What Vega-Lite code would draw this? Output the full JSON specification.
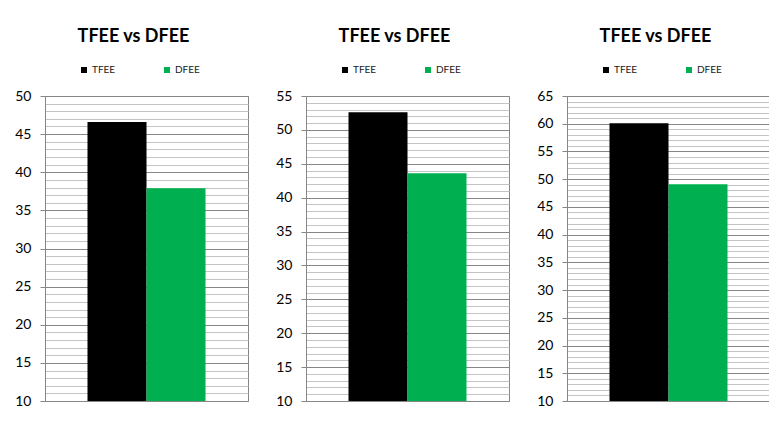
{
  "$schema": "https://vega.github.io/schema/vega-lite/v6.json",
  "padding": {"left": 14, "top": 27, "right": 0, "bottom": 0},
  "background": "white",
  "spacing": 26,
  "datasets": {
    "vals": [
      {"panel": 1, "series": "TFEE", "value": 46.6},
      {"panel": 1, "series": "DFEE", "value": 37.9},
      {"panel": 2, "series": "TFEE", "value": 52.6},
      {"panel": 2, "series": "DFEE", "value": 43.6},
      {"panel": 3, "series": "TFEE", "value": 60.1},
      {"panel": 3, "series": "DFEE", "value": 49.1}
    ]
  },
  "config": {
    "view": {"stroke": "#868686", "strokeWidth": 1},
    "title": {"font": "Lato", "fontSize": 18, "fontWeight": "bold", "color": "#000000", "dx": -13, "offset": 19},
    "legend": {"orient": "none", "legendX": 34, "legendY": -31, "direction": "horizontal", "columnPadding": 46, "symbolType": "square", "symbolSize": 36, "symbolStrokeWidth": 0, "labelFont": "Lato", "labelFontSize": 10, "labelColor": "#1a1a1a", "labelOffset": 3, "padding": 0, "title": null}
  },
  "resolve": {"scale": {"y": "independent", "color": "independent"}, "legend": {"color": "independent"}},
  "hconcat": [
    {
      "width": 203, "height": 305,
      "title": "TFEE vs DFEE",
      "data": {"name": "vals"},
      "transform": [{"filter": "datum.panel === 1"}],
      "mark": {"type": "bar"},
      "encoding": {
        "x": {"field": "series", "type": "nominal", "sort": ["TFEE", "DFEE"], "axis": null, "scale": {"paddingInner": 0, "paddingOuter": 0.72}},
        "y": {"field": "value", "type": "quantitative", "scale": {"domain": [10, 50], "nice": false, "zero": false},
          "axis": {"title": null, "values": [10,11,12,13,14,15,16,17,18,19,20,21,22,23,24,25,26,27,28,29,30,31,32,33,34,35,36,37,38,39,40,41,42,43,44,45,46,47,48,49,50],
            "grid": true, "gridColor": {"condition": {"test": "datum.value % 5 === 0", "value": "#868686"}, "value": "#c4c4c4"},
            "tickOpacity": {"condition": {"test": "datum.value % 5 === 0", "value": 1}, "value": 0},
            "labelExpr": "datum.value % 5 === 0 ? datum.label : ''", "labelOverlap": false,
            "tickSize": 5, "labelPadding": 9, "labelFont": "Lato", "labelFontSize": 14, "labelColor": "#000000",
            "domainColor": "#868686", "tickColor": "#868686"}},
        "y2": {"datum": 10},
        "color": {"field": "series", "type": "nominal", "scale": {"domain": ["TFEE", "DFEE"], "range": ["#000000", "#00B050"]}}
      }
    },
    {
      "width": 203, "height": 305,
      "title": "TFEE vs DFEE",
      "data": {"name": "vals"},
      "transform": [{"filter": "datum.panel === 2"}],
      "mark": {"type": "bar"},
      "encoding": {
        "x": {"field": "series", "type": "nominal", "sort": ["TFEE", "DFEE"], "axis": null, "scale": {"paddingInner": 0, "paddingOuter": 0.72}},
        "y": {"field": "value", "type": "quantitative", "scale": {"domain": [10, 55], "nice": false, "zero": false},
          "axis": {"title": null, "values": [10,11,12,13,14,15,16,17,18,19,20,21,22,23,24,25,26,27,28,29,30,31,32,33,34,35,36,37,38,39,40,41,42,43,44,45,46,47,48,49,50,51,52,53,54,55],
            "grid": true, "gridColor": {"condition": {"test": "datum.value % 5 === 0", "value": "#868686"}, "value": "#c4c4c4"},
            "tickOpacity": {"condition": {"test": "datum.value % 5 === 0", "value": 1}, "value": 0},
            "labelExpr": "datum.value % 5 === 0 ? datum.label : ''", "labelOverlap": false,
            "tickSize": 5, "labelPadding": 9, "labelFont": "Lato", "labelFontSize": 14, "labelColor": "#000000",
            "domainColor": "#868686", "tickColor": "#868686"}},
        "y2": {"datum": 10},
        "color": {"field": "series", "type": "nominal", "scale": {"domain": ["TFEE", "DFEE"], "range": ["#000000", "#00B050"]}}
      }
    },
    {
      "width": 203, "height": 305,
      "title": "TFEE vs DFEE",
      "data": {"name": "vals"},
      "transform": [{"filter": "datum.panel === 3"}],
      "mark": {"type": "bar"},
      "encoding": {
        "x": {"field": "series", "type": "nominal", "sort": ["TFEE", "DFEE"], "axis": null, "scale": {"paddingInner": 0, "paddingOuter": 0.72}},
        "y": {"field": "value", "type": "quantitative", "scale": {"domain": [10, 65], "nice": false, "zero": false},
          "axis": {"title": null, "values": [10,11,12,13,14,15,16,17,18,19,20,21,22,23,24,25,26,27,28,29,30,31,32,33,34,35,36,37,38,39,40,41,42,43,44,45,46,47,48,49,50,51,52,53,54,55,56,57,58,59,60,61,62,63,64,65],
            "grid": true, "gridColor": {"condition": {"test": "datum.value % 5 === 0", "value": "#868686"}, "value": "#c4c4c4"},
            "tickOpacity": {"condition": {"test": "datum.value % 5 === 0", "value": 1}, "value": 0},
            "labelExpr": "datum.value % 5 === 0 ? datum.label : ''", "labelOverlap": false,
            "tickSize": 5, "labelPadding": 9, "labelFont": "Lato", "labelFontSize": 14, "labelColor": "#000000",
            "domainColor": "#868686", "tickColor": "#868686"}},
        "y2": {"datum": 10},
        "color": {"field": "series", "type": "nominal", "scale": {"domain": ["TFEE", "DFEE"], "range": ["#000000", "#00B050"]}}
      }
    }
  ]
}
